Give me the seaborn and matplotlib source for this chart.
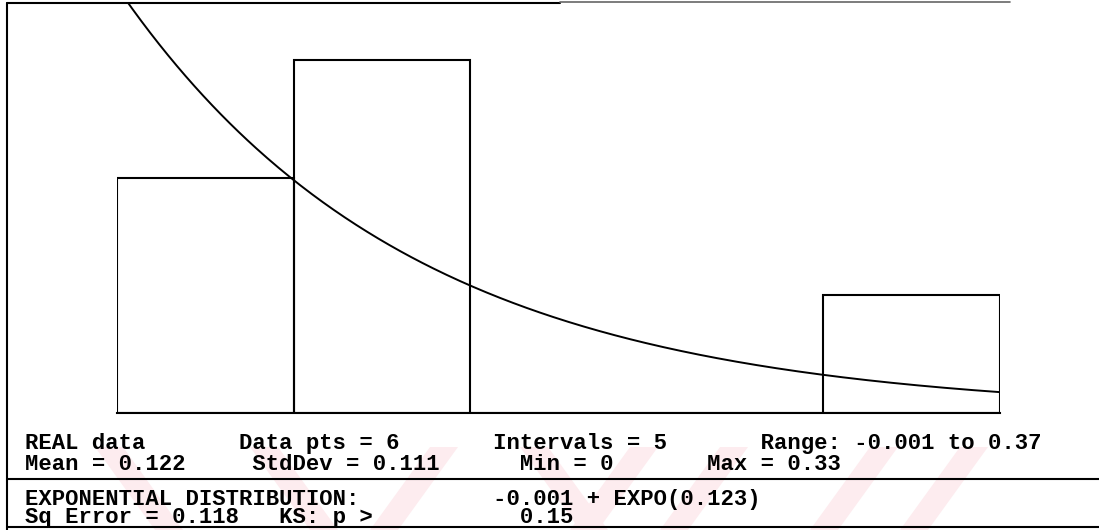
import numpy as np
import pandas as pd
import matplotlib
matplotlib.use("Agg")
import matplotlib.pyplot as plt
import seaborn as sns
from matplotlib.patches import Polygon

# histogram: 5 intervals over the range -0.001 .. 0.37
range_lo = -0.001
range_hi = 0.37
n_intervals = 5
counts = [2, 3, 0, 0, 1]

# fitted distribution: -0.001 + EXPO(0.123)
expo_offset = -0.001
expo_mean = 0.123

# text pieces with their left pixel position
info_lines = [
    [("REAL data", 25), ("Data pts = 6", 243), ("Intervals = 5", 490), ("Range: -0.001 to 0.37", 752)],
    [("Mean = 0.122", 25), ("StdDev = 0.111", 258), ("Min = 0", 518), ("Max = 0.33", 708)],
]
fit_lines = [
    [("EXPONENTIAL DISTRIBUTION:", 25), ("-0.001 + EXPO(0.123)", 490)],
    [("Sq Error = 0.118", 25), ("KS: p >", 273), ("0.15", 522)],
]

sns.set_theme(style="white")
plt.rcParams["font.family"] = ["Liberation Mono", "DejaVu Sans Mono"]

W, H = 1099, 530
FS = 16
char_w = 0.6 * FS * 100 / 72


def build_line(pieces, x0=25):
    # monospace line: pad with spaces so each piece lands on its column
    s = ""
    for txt, x in pieces:
        col = int(round((x - x0) / char_w))
        s = s + " " * max(col - len(s), 1 if s else 0) + txt
    return s


fig = plt.figure(figsize=(W / 100, H / 100), dpi=100)
fig.patch.set_facecolor("white")

# background layer in pixel coords for frame, watermark and text
bg = fig.add_axes([0, 0, 1, 1])
bg.set_xlim(0, W)
bg.set_ylim(H, 0)
bg.axis("off")

# faint pink scan watermark in the text area
pink = "#fdecef"
for x0 in [95, 250, 520]:
    bg.add_patch(Polygon([(x0, 447), (x0 + 28, 447), (x0 + 88, 530), (x0 + 60, 530)],
                         closed=True, color=pink, lw=0, zorder=0))
for x0 in [430, 630, 720, 870, 960]:
    bg.add_patch(Polygon([(x0, 447), (x0 + 28, 447), (x0 - 32, 530), (x0 - 60, 530)],
                         closed=True, color=pink, lw=0, zorder=0))

lc = "black"
bg.plot([7, 7], [3, 530], color=lc, lw=1.5)
bg.plot([7, 560], [3, 3], color=lc, lw=1.5)
bg.plot([560, 1010], [2, 2], color="#666666", lw=1.2)
bg.plot([7, W], [479, 479], color=lc, lw=1.5)
bg.plot([7, W], [527, 527], color=lc, lw=1.5)

# matplotlib line pitch is linespacing * ascent of "lp" (~0.76 em)
lp_h = 0.76 * FS * 100 / 72
bg.text(25, 454, "\n".join(build_line(r) for r in info_lines), fontsize=FS,
        fontweight="bold", va="center", ha="left", color="black",
        linespacing=16 / lp_h)
bg.text(25, 508.5, "\n".join(build_line(r) for r in fit_lines), fontsize=FS,
        fontweight="bold", va="center", ha="left", color="black",
        linespacing=14.5 / lp_h)

# histogram axes
px_per_count = 353 / 3
ax = fig.add_axes([117 / W, (H - 413) / H, (1000 - 117) / W, (413 - 3) / H])
ax.patch.set_alpha(0)

edges = np.linspace(range_lo, range_hi, n_intervals + 1)
centers = (edges[:-1] + edges[1:]) / 2
hist_df = pd.DataFrame({"x": centers, "count": counts})
sns.histplot(data=hist_df, x="x", weights="count", bins=list(edges), fill=False,
             element="bars", color="black", linewidth=1.5, ax=ax)

xs = np.linspace(range_lo, range_hi, 400)
bin_w = (range_hi - range_lo) / n_intervals
dens = np.exp(-(xs - expo_offset) / expo_mean) / expo_mean
curve_df = pd.DataFrame({"x": xs, "y": dens * sum(counts) * bin_w})
sns.lineplot(data=curve_df, x="x", y="y", color="black", linewidth=1.4, ax=ax)

ax.set_xlim(range_lo, range_hi)
ax.set_ylim(0, 410 / px_per_count)
for s in ["top", "left", "right"]:
    ax.spines[s].set_visible(False)
ax.spines["bottom"].set_color("black")
ax.spines["bottom"].set_linewidth(1.5)
ax.set_xticks([])
ax.set_yticks([])
ax.set_xlabel("")
ax.set_ylabel("")

fig.savefig("out.png", dpi=100)
